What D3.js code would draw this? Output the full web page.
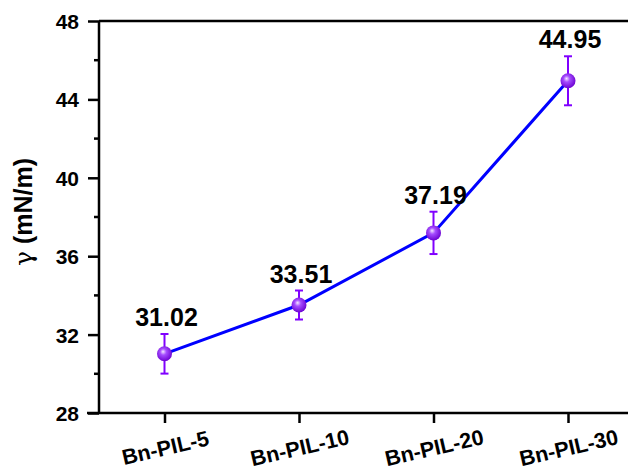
<!DOCTYPE html>
<html><head><meta charset="utf-8">
<script src="https://cdn.jsdelivr.net/npm/d3@7"></script>
<style>body{margin:0;background:#fff}svg{display:block}text{font-family:Arial,"Liberation Sans",sans-serif}</style>
</head><body>
<script>
const categories = ["Bn-PIL-5","Bn-PIL-10","Bn-PIL-20","Bn-PIL-30"];
const values = [31.02, 33.51, 37.19, 44.95];
const errors = [1.01, 0.74, 1.08, 1.25];
const labels = ["31.02","33.51","37.19","44.95"];
const yTicks = [28,32,36,40,44,48];
const yMinor = [30,34,38,42,46];

const W=628,H=472;
const svg=d3.select("body").append("svg").attr("width",W).attr("height",H);
const defs=svg.append("defs");
const g=defs.append("radialGradient").attr("id","ball").attr("cx","45%").attr("cy","42%").attr("r","60%").attr("fx","40%").attr("fy","35%");
g.append("stop").attr("offset","0%").attr("stop-color","#f4e8ff");
g.append("stop").attr("offset","35%").attr("stop-color","#a64dff");
g.append("stop").attr("offset","100%").attr("stop-color","#6a00d0");

const pLeft=99, pTop=21, pBottom=413;
const x=d3.scalePoint().domain(categories).range([164.5,568]).padding(0);
const y=d3.scaleLinear().domain([28,48]).range([pBottom,pTop]);

// top border
svg.append("line").attr("x1",pLeft).attr("x2",W).attr("y1",pTop).attr("y2",pTop).attr("stroke","#000").attr("stroke-width",2.5);

// y axis
const ya=svg.append("g").attr("transform",`translate(${pLeft},0)`)
  .call(d3.axisLeft(y).tickValues(yTicks).tickSize(11).tickPadding(9).tickFormat(d3.format("d")));
ya.attr("font-family",null).attr("font-size",null);
ya.select(".domain").attr("stroke-width",2.5).attr("d",`M0,${pTop}V${pBottom}`);
ya.selectAll(".tick line").attr("stroke-width",2.5);
ya.selectAll(".tick text").style("font-size","21px").style("font-weight","bold").attr("fill","#000").attr("dy","0.36em");
svg.append("g").attr("transform",`translate(${pLeft},0)`).selectAll("line").data(yMinor).join("line")
  .attr("x1",-5).attr("x2",0).attr("y1",d=>y(d)).attr("y2",d=>y(d)).attr("stroke","#000").attr("stroke-width",2.5);

// x axis
const xa=svg.append("g").attr("transform",`translate(0,${pBottom})`)
  .call(d3.axisBottom(x).tickSize(10).tickPadding(0));
xa.attr("font-family",null).attr("font-size",null);
xa.select(".domain").attr("stroke-width",2.5).attr("d",`M${pLeft-12},0H${W}`);
xa.selectAll(".tick line").attr("stroke-width",2.5);
xa.selectAll(".tick text").style("font-size","21.5px").style("font-weight","bold").attr("fill","#000")
  .attr("text-anchor","middle").attr("dy",0).attr("y",0)
  .attr("transform","translate(2,42) rotate(-13)");

// y label
svg.append("text").attr("transform","translate(32,212) rotate(-90)").attr("text-anchor","middle")
  .style("font-size","25px").style("font-weight","bold").attr("fill","#000")
  .html('<tspan style="font-weight:normal;font-family:\'DejaVu Serif\',serif">γ</tspan> (mN/m)');

// line
const pts=categories.map((c,i)=>[x(c),y(values[i])]);
svg.append("path").attr("d",d3.line()(pts)).attr("fill","none").attr("stroke","#0000ff").attr("stroke-width",3);

// error bars
const eb=svg.append("g").attr("stroke","#8000ff").attr("stroke-width",2);
categories.forEach((c,i)=>{
  const cx=x(c), y1=y(values[i]+errors[i]), y2=y(values[i]-errors[i]);
  eb.append("line").attr("x1",cx).attr("x2",cx).attr("y1",y1).attr("y2",y2);
  eb.append("line").attr("x1",cx-4).attr("x2",cx+4).attr("y1",y1).attr("y2",y1);
  eb.append("line").attr("x1",cx-4).attr("x2",cx+4).attr("y1",y2).attr("y2",y2);
});

// markers
svg.append("g").selectAll("circle").data(pts).join("circle")
  .attr("cx",d=>d[0]).attr("cy",d=>d[1]).attr("r",7.5).attr("fill","url(#ball)");

// value labels
svg.append("g").selectAll("text").data(categories).join("text")
  .attr("x",c=>x(c)+2).attr("y",(c,i)=>y(values[i]+errors[i])-8)
  .attr("text-anchor","middle").style("font-size","25px").style("font-weight","bold").attr("fill","#000")
  .text((c,i)=>labels[i]);
</script>
</body></html>
